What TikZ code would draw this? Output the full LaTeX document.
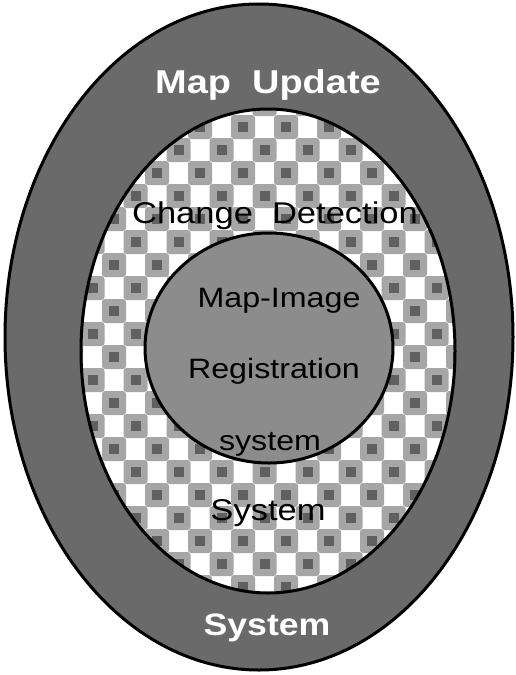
\documentclass[tikz,border=0pt]{standalone}
\usepackage{graphicx}
\usepackage{fontspec}
\setmainfont{Liberation Sans}
\definecolor{ringdark}{HTML}{6a6a6a}
\definecolor{coregrey}{HTML}{8c8c8c}
\definecolor{blobgrey}{HTML}{a6a6a6}
\definecolor{blobdark}{HTML}{606060}
\newcommand{\widetext}[1]{\scalebox{1.15}[1]{#1}}
\tikzset{
    ring/.style={draw=black, line width=3pt},
    white label/.style={
        text=white, anchor=base, inner sep=0pt,
        font=\fontsize{33}{38}\selectfont\bfseries
    },
    black label/.style={
        text=black, anchor=base, inner sep=0pt,
        font=\fontsize{30}{34}\selectfont
    }
}

\begin{document}
\begin{tikzpicture}[x=1pt, y=-1pt]

    \useasboundingbox (0,0) rectangle (515,675);

    % --- Outer ring ---
    \fill[ringdark] (259,337) ellipse [x radius=254pt, y radius=333pt];

    % --- Middle ring with blobs ---
    \fill[white] (268,351) ellipse [x radius=187pt, y radius=242pt];
    \begin{scope}
        \clip (268,351) ellipse [x radius=187pt, y radius=242pt];
        \foreach \j in {0,...,22} {
            \foreach \k in {-4,...,6} {
                \pgfmathsetmacro{\bx}{221.5 + 21.5*mod(\j,2) + 43*\k}
                \pgfmathsetmacro{\by}{104 + 23*\j}
                \fill[blobgrey, rounded corners=3pt] (\bx-12,\by-12) rectangle (\bx+12,\by+12);
                \fill[blobdark] (\bx-5,\by-5) rectangle (\bx+5,\by+5);
            }
        }
    \end{scope}

    % --- Inner core ---
    \fill[coregrey] (269,348) ellipse [x radius=124pt, y radius=115pt];

    % --- Outlines ---
    \draw[ring] (259,337) ellipse [x radius=254pt, y radius=333pt];
    \draw[ring] (268,351) ellipse [x radius=187pt, y radius=242pt];
    \draw[ring] (269,348) ellipse [x radius=124pt, y radius=115pt];

    % --- Labels ---
    \node[white label] (mapupdate) at (268,93) {\widetext{Map\ \ Update}};
    \node[black label] (change) at (275,223) {\widetext{Change\ \ Detection}};
    \node[black label, font=\fontsize{28}{32}\selectfont] (mapimage) at (279,307) {\widetext{Map-Image}};
    \node[black label, font=\fontsize{28}{32}\selectfont] (registration) at (274,378) {\widetext{Registration}};
    \node[black label, font=\fontsize{28}{32}\selectfont] (coresys) at (270,450) {\widetext{system}};
    \node[black label] (midsys) at (268,520) {\widetext{System}};
    \node[white label, font=\fontsize{31}{36}\selectfont\bfseries] (outersys) at (267,635) {\widetext{System}};

\end{tikzpicture}
\end{document}
